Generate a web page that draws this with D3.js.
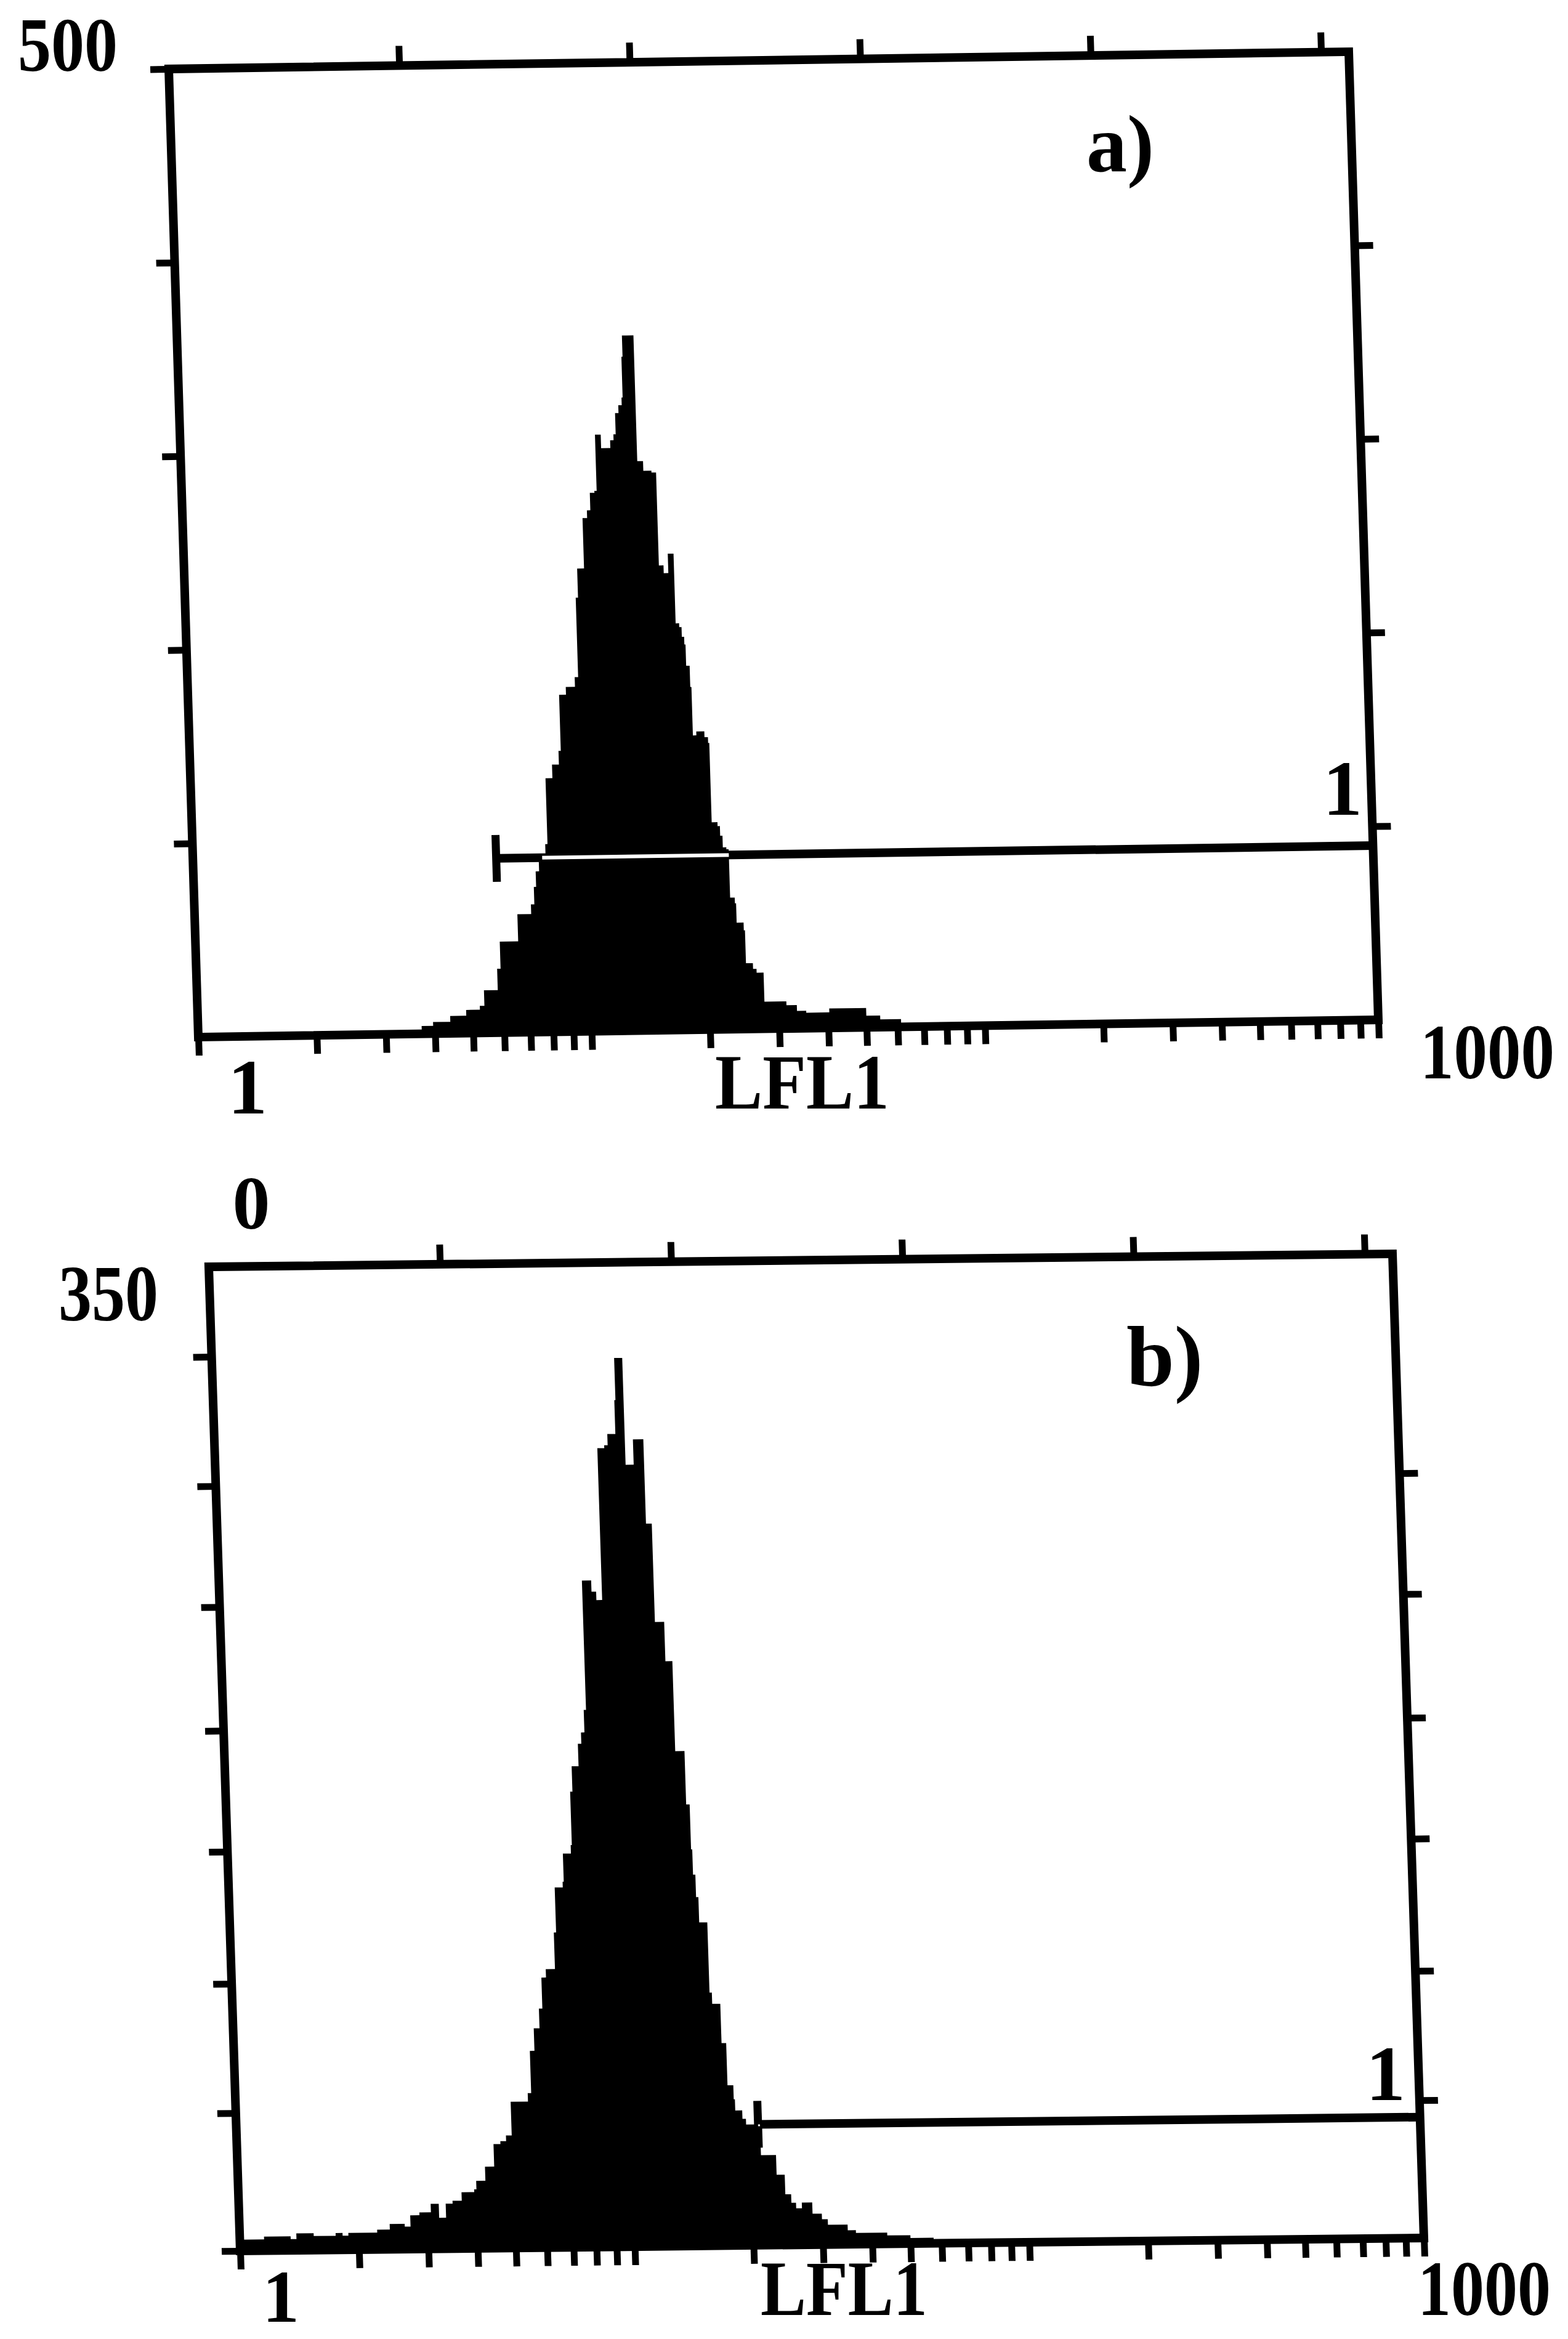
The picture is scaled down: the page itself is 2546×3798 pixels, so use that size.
<!DOCTYPE html>
<html>
<head>
<meta charset="utf-8">
<script src="https://cdn.jsdelivr.net/npm/d3@7"></script>
<style>
  html, body { margin: 0; padding: 0; background: #fff; }
  svg { display: block; background: #fff; }
  text { font-family: "Liberation Serif", "Times New Roman", serif; font-weight: bold; fill: #000; }
</style>
</head>
<body>
<div id="chart"></div>
<script>
// histogram a: channel (of 1024) where a step starts, and the event count of that step
const chA = [0, 100, 150, 185, 194, 204, 219, 233, 245, 249, 261, 264, 280, 292, 295, 297, 300, 303, 306, 308,
  314, 320, 322, 328, 336, 339, 341, 347, 351, 354, 358, 360, 365, 373, 376, 378, 381, 384, 385, 386,
  396, 401, 408, 412, 416, 420, 425, 428, 430, 432, 433, 436, 437, 440, 447, 450, 451, 456, 458, 460,
  463, 465, 469, 470, 476, 477, 483, 486, 492, 511, 520, 528, 548, 572, 580, 592, 610, 640, 1024];
const countA = [0, 1, 2, 2, 4, 6, 9, 12, 14, 22, 33, 47, 61, 66, 75, 83, 88, 92, 97, 131,
  138, 145, 174, 178, 183, 224, 239, 265, 269, 278, 279, 308, 301, 305, 308, 319, 323, 327, 348, 359,
  294, 289, 288, 240, 236, 246, 210, 208, 203, 199, 188, 177, 152, 154, 151, 148, 107, 105, 100, 94,
  93, 68, 65, 55, 51, 34, 31, 29, 14, 12, 9, 8, 10, 10, 6, 4, 2, 0, 0];

// histogram b
const chB = [0, 21, 44, 49, 64, 83, 89, 94, 119, 130, 143, 148, 156, 166, 173, 179, 185, 193, 204, 206,
  214, 222, 228, 233, 238, 253, 256, 260, 265, 268, 272, 280, 282, 289, 290, 297, 298, 300, 306, 309,
  312, 314, 322, 326, 331, 337, 340, 347, 348, 355, 362, 371, 376, 384, 390, 398, 401, 402, 404, 406,
  413, 415, 422, 426, 431, 432, 438, 441, 453, 466, 473, 478, 482, 487, 496, 504, 509, 526, 533, 560,
  580, 600, 630, 1024];
const countB = [4, 5, 4, 6, 5, 6, 5, 6, 7, 9, 8, 12, 13, 16, 11, 16, 17, 20, 21, 24,
  29, 37, 38, 40, 52, 55, 70, 78, 85, 96, 99, 112, 128, 130, 140, 143, 162, 171, 179, 183,
  191, 237, 233, 230, 284, 285, 289, 301, 316, 278, 287, 257, 222, 208, 176, 157, 141, 132, 124, 115,
  90, 86, 72, 57, 52, 48, 45, 43, 32, 25, 18, 15, 13, 15, 11, 9, 7, 5, 4, 3,
  2, 1, 0, 0];

const panelNames = ["a)", "b)"];
const xTitle = "LFL1";
const xDomain = [1, 1000];
const channels = 1024;
const yMaxA = 500, yMaxB = 350;
const yTicksA = [100, 200, 300, 400, 500];
const yTicksRightA = [100, 200, 300, 400];
const yTicksB = [0, 49, 95, 142, 185, 229, 272, 318];
const yTicksRightB = [49, 95, 142, 185, 229, 272];
const topTicks = [200, 400, 600, 800, 1000];
const logTicks = d3.range(1, 10).concat(d3.range(10, 100, 10), d3.range(100, 1000, 100), [1000]);
const gateStartA = 5.9, gateLevelA = 90;
const gateStartB = 21, gateLevelB = 43;
const gateName = "1";

const svg = d3.select("#chart").append("svg")
  .attr("width", 2546)
  .attr("height", 3798);

// the scanned frames are a little skewed, so each panel gets its own corners
const panels = [
  { name: panelNames[0], ch: chA, counts: countA, yMax: yMaxA, yTicks: yTicksA, yTicksRight: yTicksRightA,
    gateStart: gateStartA, gateLevel: gateLevelA, clip: "clipA",
    tl: [274, 112], tr: [2190, 84], bl: [322, 1684],
    lab: { yMax: [29, 115, 162, 124], name: [1764, 278, 132], gate: [2180, 1323, 128], xMin: [402, 1808, 128],
           title: [1161, 1800, 283], xMax: [2306, 1751, 218] } },
  { name: panelNames[1], ch: chB, counts: countB, yMax: yMaxB, yTicks: yTicksB, yTicksRight: yTicksRightB,
    gateStart: gateStartB, gateLevel: gateLevelB, clip: "clipB",
    tl: [339, 2057], tr: [2261, 2036], bl: [390, 3655],
    lab: { yMax: [95, 2144, 162, 130], name: [1829, 2250, 140], gate: [2250, 3410, 128], xMin: [456, 3770, 120],
           title: [1235, 3759, 271], xMax: [2302, 3759, 216] } }
];

function tickStyle(sel) {
  sel.select(".domain").remove();
  sel.selectAll(".tick line").attr("stroke", "#000").attr("stroke-width", 11);
}

function drawPanel(p) {
  const dx1 = p.tr[0] - p.tl[0], dy1 = p.tr[1] - p.tl[1];
  const dx2 = p.bl[0] - p.tl[0], dy2 = p.bl[1] - p.tl[1];
  const W = Math.hypot(dx1, dy1), H = Math.hypot(dx2, dy2);
  const g = svg.append("g")
    .attr("transform", `matrix(${dx1 / W},${dy1 / W},${dx2 / H},${dy2 / H},${p.tl[0]},${p.tl[1]})`);

  const x = d3.scaleLog().domain(xDomain).range([0, W]);
  const xCh = d3.scaleLinear().domain([0, channels]).range([0, W]);
  const y = d3.scaleLinear().domain([0, p.yMax]).range([H, 0]);

  const bins = p.ch.map((c, i) => ({ c: c, n: p.counts[i] }));
  const area = d3.area()
    .curve(d3.curveStepAfter)
    .x(d => xCh(d.c))
    .y0(y(0))
    .y1(d => y(d.n));

  g.append("clipPath").attr("id", p.clip)
    .append("path").attr("d", area(bins));

  g.append("path")
    .attr("d", area(bins))
    .attr("fill", "#000");

  g.append("g").attr("transform", `translate(0,${H})`)
    .call(d3.axisBottom(x).tickValues(logTicks).tickSize(30).tickFormat(""))
    .call(tickStyle);
  g.append("g")
    .call(d3.axisTop(xCh).tickValues(topTicks).tickSize(32).tickFormat(""))
    .call(tickStyle);
  g.append("g")
    .call(d3.axisLeft(y).tickValues(p.yTicks).tickSize(30).tickFormat(""))
    .call(tickStyle);
  g.append("g").attr("transform", `translate(${W},0)`)
    .call(d3.axisRight(y).tickValues(p.yTicksRight).tickSize(30).tickFormat(""))
    .call(tickStyle);

  g.append("rect")
    .attr("width", W)
    .attr("height", H)
    .attr("fill", "none")
    .attr("stroke", "#000")
    .attr("stroke-width", 14);

  // gate marker 1
  const gx = x(p.gateStart), gy = y(p.gateLevel);
  g.append("line")
    .attr("x1", gx).attr("x2", W).attr("y1", gy).attr("y2", gy)
    .attr("stroke", "#000").attr("stroke-width", 14);
  g.append("line")
    .attr("x1", gx).attr("x2", gx).attr("y1", gy - 38).attr("y2", gy + 38)
    .attr("stroke", "#000").attr("stroke-width", 13);
  g.append("line")
    .attr("x1", gx).attr("x2", W).attr("y1", gy).attr("y2", gy)
    .attr("stroke", "#fff").attr("stroke-width", 6)
    .attr("clip-path", `url(#${p.clip})`);

  // labels, placed on the page; narrow ones are squeezed with a horizontal scale
  const L = p.lab;
  const labels = [
    { t: String(p.yMax), x: L.yMax[0], y: L.yMax[1], len: L.yMax[2], size: L.yMax[3] },
    { t: p.name, x: L.name[0], y: L.name[1], size: L.name[2] },
    { t: gateName, x: L.gate[0], y: L.gate[1], size: L.gate[2], anchor: "middle" },
    { t: String(xDomain[0]), x: L.xMin[0], y: L.xMin[1], size: L.xMin[2], anchor: "middle" },
    { t: xTitle, x: L.title[0], y: L.title[1], len: L.title[2], size: 128 },
    { t: String(xDomain[1]), x: L.xMax[0], y: L.xMax[1], len: L.xMax[2], size: 128 }
  ];
  svg.append("g").selectAll("text")
    .data(labels)
    .join("text")
    .attr("font-size", d => d.size)
    .attr("text-anchor", d => d.anchor || "start")
    .text(d => d.t)
    .attr("transform", function(d) {
      let t = `translate(${d.x},${d.y})`;
      if (d.len) t += ` scale(${d.len / this.getComputedTextLength()},1)`;
      return t;
    });
}

panels.forEach(drawPanel);

// the lone zero between the two panels
svg.append("text")
  .attr("x", 408)
  .attr("y", 1995)
  .attr("font-size", 122)
  .attr("text-anchor", "middle")
  .text(0);
</script>
</body>
</html>
